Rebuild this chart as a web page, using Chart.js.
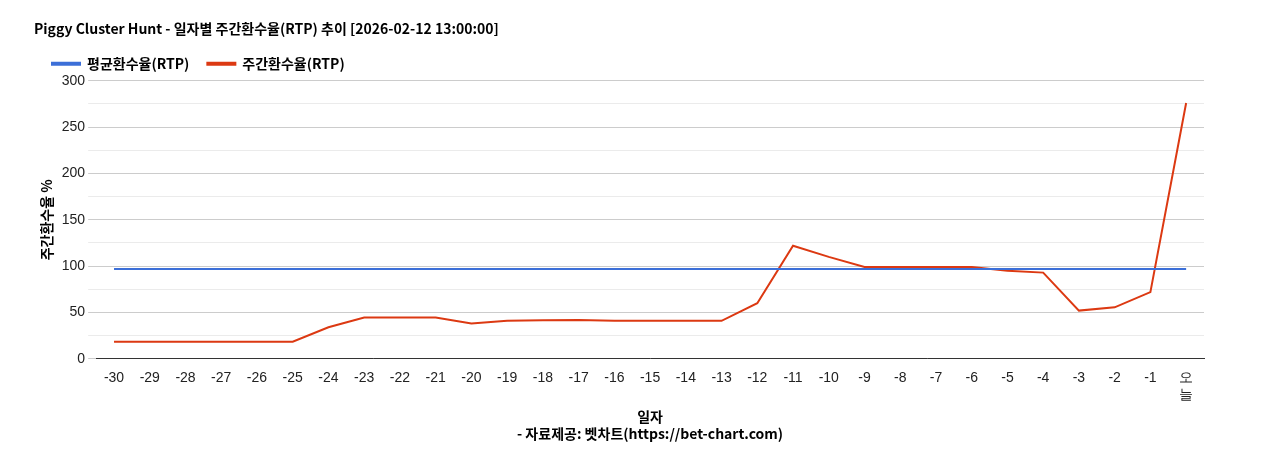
<!DOCTYPE html>
<html><head><meta charset="utf-8">
<script src="https://cdn.jsdelivr.net/npm/chart.js@4"></script>
<style>html,body{margin:0;padding:0;background:#fff}#w{width:1268px;height:450px}</style>
</head><body><div id="w"><canvas id="c"></canvas></div>
<script>
const categories = ['-30','-29','-28','-27','-26','-25','-24','-23','-22','-21','-20','-19','-18','-17','-16','-15','-14','-13','-12','-11','-10','-9','-8','-7','-6','-5','-4','-3','-2','-1',['오','늘']];
const avgRTP = [97,97,97,97,97,97,97,97,97,97,97,97,97,97,97,97,97,97,97,97,97,97,97,97,97,97,97,97,97,97,97];
const weeklyRTP = [18.5,18.5,18.5,18.5,18.5,18.5,34,44.5,44.5,44.5,38,41,41.5,42,41,41,41,41,60,122,110,99,99,99,99,95,93,52,55.5,72,276];
const F = "'Noto Sans CJK KR','Noto Sans',sans-serif";
const T = "'Liberation Sans',Arial,sans-serif";
Chart.defaults.font.family = F;
Chart.defaults.color = '#222';
new Chart(document.getElementById('c'), {
  type: 'line',
  data: { labels: categories, datasets: [
    { label: '평균환수율(RTP)', data: avgRTP, borderColor: '#3c6fd8', backgroundColor: '#3c6fd8', borderWidth: 2, pointRadius: 0, tension: 0 },
    { label: '주간환수율(RTP)', data: weeklyRTP, borderColor: '#dc3912', backgroundColor: '#dc3912', borderWidth: 2, pointRadius: 0, tension: 0 }
  ]},
  options: {
    responsive: true, maintainAspectRatio: false, animation: false,
    layout: { padding: { left: 34, right: 64, top: 14, bottom: 4 } },
    plugins: {
      title: { display: true, text: 'Piggy Cluster Hunt - 일자별 주간환수율(RTP) 추이 [2026-02-12 13:00:00]', align: 'start', font: { size: 14, weight: 'bold' }, color: '#000', padding: { top: 6, bottom: 2 } },
      legend: { align: 'start', labels: { boxWidth: 28, boxHeight: 2, font: { size: 14, weight: 'bold' }, color: '#000', padding: 18 } },
      tooltip: { enabled: false }
    },
    scales: {
      x: { offset: true, grid: { display: false }, border: { color: '#333' }, ticks: { font: { size: 14, family: T }, color: '#222', maxRotation: 0, autoSkip: false },
           title: { display: true, text: ['일자', '- 자료제공: 벳차트(https://bet-chart.com)'], font: { size: 14, weight: 'bold' }, color: '#000', padding: { top: 2 } } },
      y: { min: 0, max: 300, ticks: { stepSize: 25, font: { size: 14, family: T }, color: '#222', callback: v => v % 50 === 0 ? v : '' },
           grid: { color: c => c.tick.value % 50 === 0 ? '#cccccc' : '#ebebeb' }, border: { display: false },
           title: { display: true, text: '주간환수율 %', font: { size: 14, weight: 'bold' }, color: '#000' } }
    }
  }
});
</script></body></html>
